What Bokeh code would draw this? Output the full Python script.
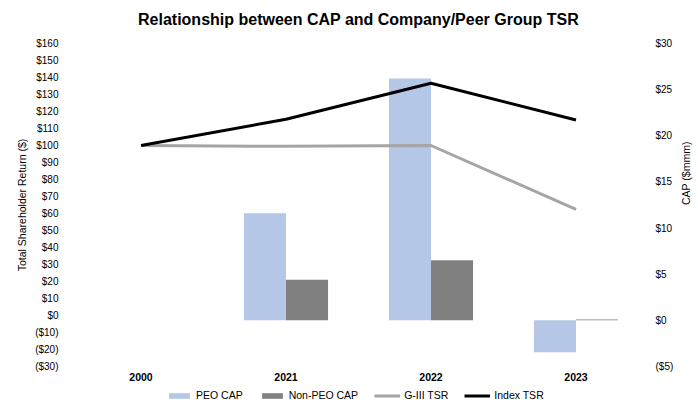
import math
from bokeh.plotting import figure
from bokeh.layouts import column
from bokeh.models import (FactorRange, Range1d, LinearAxis, FixedTicker, CustomJSTickFormatter,
                          Legend, LegendItem, ColumnDataSource, Title)
from bokeh.transform import dodge
from bokeh.embed import file_html
from bokeh.resources import INLINE

years = ["2000", "2021", "2022", "2023"]
peo_cap = [float("nan"), 11.6, 26.2, -3.45]
non_peo_cap = [float("nan"), 4.4, 6.5, 0.1]
g3_tsr = [100, 99.5, 100, 62.4]
index_tsr = [100, 115.4, 136.6, 115.0]
left_ticks = list(range(-30, 161, 10))
right_ticks = list(range(-5, 31, 5))
series_names = ["PEO CAP", "Non-PEO CAP", "G-III TSR", "Index TSR"]

FONT = "Liberation Sans"
C_PEO, C_NON, C_G3, C_IDX = "#B4C7E7", "#808080", "#A5A5A5", "#000000"

src = ColumnDataSource(dict(year=years, peo=peo_cap, nonpeo=non_peo_cap, g3=g3_tsr, idx=index_tsr))

p = figure(width=698, height=386, frame_width=580, frame_height=323,
           x_range=FactorRange(*years, range_padding=0),
           y_range=Range1d(-30, 160), output_backend="svg", toolbar_location=None,
           min_border_left=68, min_border_right=50, min_border_top=43, min_border_bottom=20)
p.extra_y_ranges = {"cap": Range1d(-5, 30)}
p.outline_line_color = None
p.xgrid.visible = False
p.ygrid.visible = False

p.title.text = "Relationship between CAP and Company/Peer Group TSR"
p.title.align = "center"
p.title.text_font = FONT
p.title.text_font_size = "16px"
p.title.text_font_style = "bold"
p.title.text_color = "#000000"
p.title.standoff = 0
# spacer between the title and the plot area
p.add_layout(Title(text=" ", text_font_size="1px", standoff=13), "above")

bw = 0.29
p.vbar(x=dodge("year", -bw / 2, range=p.x_range), top="peo", bottom=0, width=bw,
       source=src, y_range_name="cap", fill_color=C_PEO, line_color=None)
p.vbar(x=dodge("year", bw / 2, range=p.x_range), top="nonpeo", bottom=0, width=bw,
       source=src, y_range_name="cap", fill_color=C_NON, line_color=None)
p.line(x="year", y="g3", source=src, line_color=C_G3, line_width=3)
p.line(x="year", y="idx", source=src, line_color=C_IDX, line_width=3)

fmt = CustomJSTickFormatter(code="return tick < 0 ? '($' + Math.abs(tick) + ')' : '$' + tick;")

def style_axis(ax):
    ax.axis_line_color = None
    ax.major_tick_line_color = None
    ax.minor_tick_line_color = None
    ax.major_tick_out = 0
    ax.major_tick_in = 0
    ax.minor_tick_out = 0
    ax.major_label_text_font = FONT
    ax.major_label_text_font_size = "10px"
    ax.major_label_text_color = "#000000"
    ax.axis_label_text_font = FONT
    ax.axis_label_text_font_size = "10.5px"
    ax.axis_label_text_font_style = "normal"
    ax.axis_label_text_color = "#000000"

ya = p.yaxis[0]
ya.ticker = FixedTicker(ticks=left_ticks)
ya.formatter = fmt
style_axis(ya)
ya.major_label_standoff = 10
ya.axis_label = "Total Shareholder Return ($)"
ya.axis_label_standoff = 4

ra = LinearAxis(y_range_name="cap", ticker=FixedTicker(ticks=right_ticks), formatter=fmt)
style_axis(ra)
ra.major_label_standoff = 7
ra.axis_label = "CAP ($mmm)"
ra.axis_label_standoff = 10
if "axis_label_orientation" in ra.properties():
    ra.axis_label_orientation = math.pi / 2
p.add_layout(ra, "right")

xa = p.xaxis[0]
style_axis(xa)
xa.major_label_text_font_style = "bold"
xa.major_label_text_font_size = "10.5px"
xa.major_label_standoff = 6

# legend strip below the chart (proxy glyphs sit outside the strip's ranges)
lg = figure(width=698, height=20, frame_width=698, frame_height=20,
            x_range=Range1d(0, 1), y_range=Range1d(0, 1), output_backend="svg",
            toolbar_location=None, x_axis_location=None, y_axis_location=None,
            min_border=0)
lg.outline_line_color = None
lg.grid.visible = False
g_peo = lg.vbar(x=[5], top=[0.5], width=0.1, fill_color=C_PEO, line_color=None)
g_non = lg.vbar(x=[5], top=[0.5], width=0.1, fill_color=C_NON, line_color=None)
g_g3 = lg.line(x=[5, 6], y=[0.5, 0.5], line_color=C_G3, line_width=3)
g_idx = lg.line(x=[5, 6], y=[0.5, 0.5], line_color=C_IDX, line_width=3)

legend = Legend(items=[LegendItem(label=n, renderers=[r]) for n, r in
                       zip(series_names, [g_peo, g_non, g_g3, g_idx])],
                orientation="horizontal", location=(166, 5))
legend.border_line_color = None
legend.background_fill_alpha = 0
legend.padding = 0
legend.margin = 0
legend.spacing = 16
legend.label_standoff = 4
legend.glyph_width = 26
legend.glyph_height = 7
legend.label_text_font = FONT
legend.label_text_font_size = "10.5px"
legend.label_text_color = "#000000"
legend.label_height = 12
lg.add_layout(legend, "center")

open("out.html", "w").write(file_html(column(p, lg), INLINE))
